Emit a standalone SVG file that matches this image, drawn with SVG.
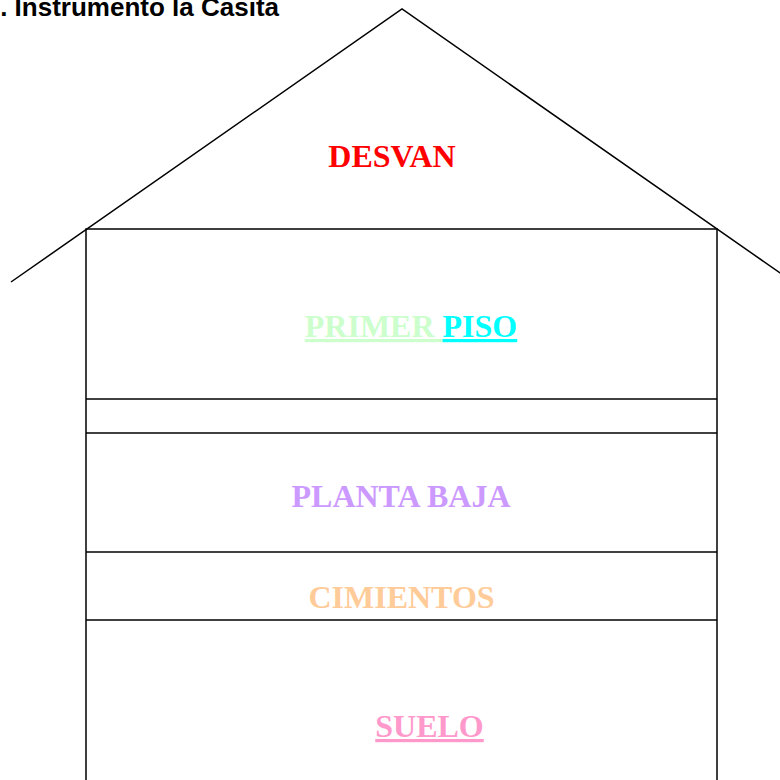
<svg xmlns="http://www.w3.org/2000/svg" width="780" height="780" viewBox="0 0 780 780">
<style>
.ln{stroke:#000;stroke-width:1.5;fill:none}
.lbl{font-family:"Liberation Serif","Times New Roman",serif;font-weight:bold;font-size:32px;text-anchor:middle}
.title{font-family:"Liberation Sans",Arial,sans-serif;font-weight:bold;font-size:26px}
</style>
<rect width="780" height="780" fill="#fff"/>
<text class="title" x="279" y="16" text-anchor="end" fill="#000">. Instrumento la Casita</text>
<g id="structure">
<polyline class="ln" points="11,282 402,9 793,282"/>
<rect class="ln" x="86" y="229" width="631" height="560"/>
<line class="ln" x1="86" y1="399" x2="717" y2="399"/>
<line class="ln" x1="86" y1="433" x2="717" y2="433"/>
<line class="ln" x1="86" y1="552" x2="717" y2="552"/>
<line class="ln" x1="86" y1="620" x2="717" y2="620"/>
</g>
<g id="desvan"><text class="lbl" x="392" y="167" fill="#ff0000">DESVAN</text></g>
<g id="primer-piso"><text class="lbl" x="411" y="337"><tspan fill="#ccffcc" text-decoration="underline">PRIMER </tspan><tspan fill="#00ffff" text-decoration="underline">PISO</tspan></text></g>
<g id="planta-baja"><text class="lbl" x="401" y="507" fill="#cc99ff">PLANTA BAJA</text></g>
<g id="cimientos"><text class="lbl" x="401.5" y="608" fill="#ffcc99">CIMIENTOS</text></g>
<g id="suelo"><text class="lbl" x="429.5" y="737" fill="#ff99cc" text-decoration="underline">SUELO</text></g>
</svg>
